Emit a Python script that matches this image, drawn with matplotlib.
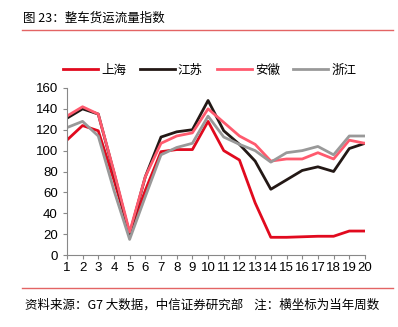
import matplotlib
matplotlib.use("Agg")
import matplotlib.pyplot as plt
from matplotlib.lines import Line2D

plt.rcParams['font.family'] = ['Noto Sans CJK SC', 'DejaVu Sans']

weeks = list(range(1, 21))
shanghai = [110, 124, 119, 72, 21, 62, 99, 101, 101, 128, 100, 91, 50, 17, 17, 17.5, 18, 18, 23, 23]
jiangsu = [131, 140, 135, 79, 20, 75, 113, 118, 120, 148, 119, 106, 90, 63, 72, 81, 84.5, 80, 102, 107]
anhui = [133, 142, 135, 80, 22, 75, 107, 114, 117, 140, 127, 114, 106, 90, 92, 92, 98, 92, 110, 107]
zhejiang = [122, 128, 114, 62, 15, 56, 96, 103, 107, 133, 113, 106, 100, 89, 98, 100, 104, 96, 114, 114]

names = ['上海', '江苏', '安徽', '浙江']
colors = ['#E10A1E', '#231815', '#FF5A6E', '#999999']

fig = plt.figure(figsize=(3.98, 3.27), dpi=100)
ax = fig.add_axes([0.168, 0.22, 0.749, 0.511])

for series, name, c in zip([shanghai, jiangsu, anhui, zhejiang], names, colors):
    ax.plot(weeks, series, color=c, lw=2.0, label=name)

ax.set_xlim(1, 20)
ax.set_ylim(0, 160)
ax.set_xticks(weeks)
ax.set_yticks(range(0, 161, 20))
for s in ['top', 'right']:
    ax.spines[s].set_visible(False)
for s in ['left', 'bottom']:
    ax.spines[s].set_color('#888888')
    ax.spines[s].set_linewidth(0.8)
ax.tick_params(axis='both', colors='#888888', labelcolor='black',
               length=3, width=0.8, direction='out')
ax.tick_params(axis='x', pad=2)
for lab in ax.get_xticklabels() + ax.get_yticklabels():
    lab.set_family('Liberation Sans')
    lab.set_fontsize(9.5)

fig.legend(loc='center', bbox_to_anchor=(0.527, 0.785), ncol=4, frameon=False,
           fontsize=9, handlelength=2.8, handletextpad=0.25, columnspacing=1.1)

# title and separators
fig.text(0.058, 0.945, '图 23：整车货运流量指数', fontsize=9, va='center', ha='left')
fig.add_artist(Line2D([0.055, 0.988], [0.909, 0.909], color='#E36464', lw=1.0))
fig.add_artist(Line2D([0.055, 0.988], [0.119, 0.119], color='#E36464', lw=1.0))
fig.text(0.063, 0.067, '资料来源：G7 大数据，中信证券研究部    注：横坐标为当年周数',
         fontsize=9, va='center', ha='left')

fig.savefig('out.png', dpi=100)
